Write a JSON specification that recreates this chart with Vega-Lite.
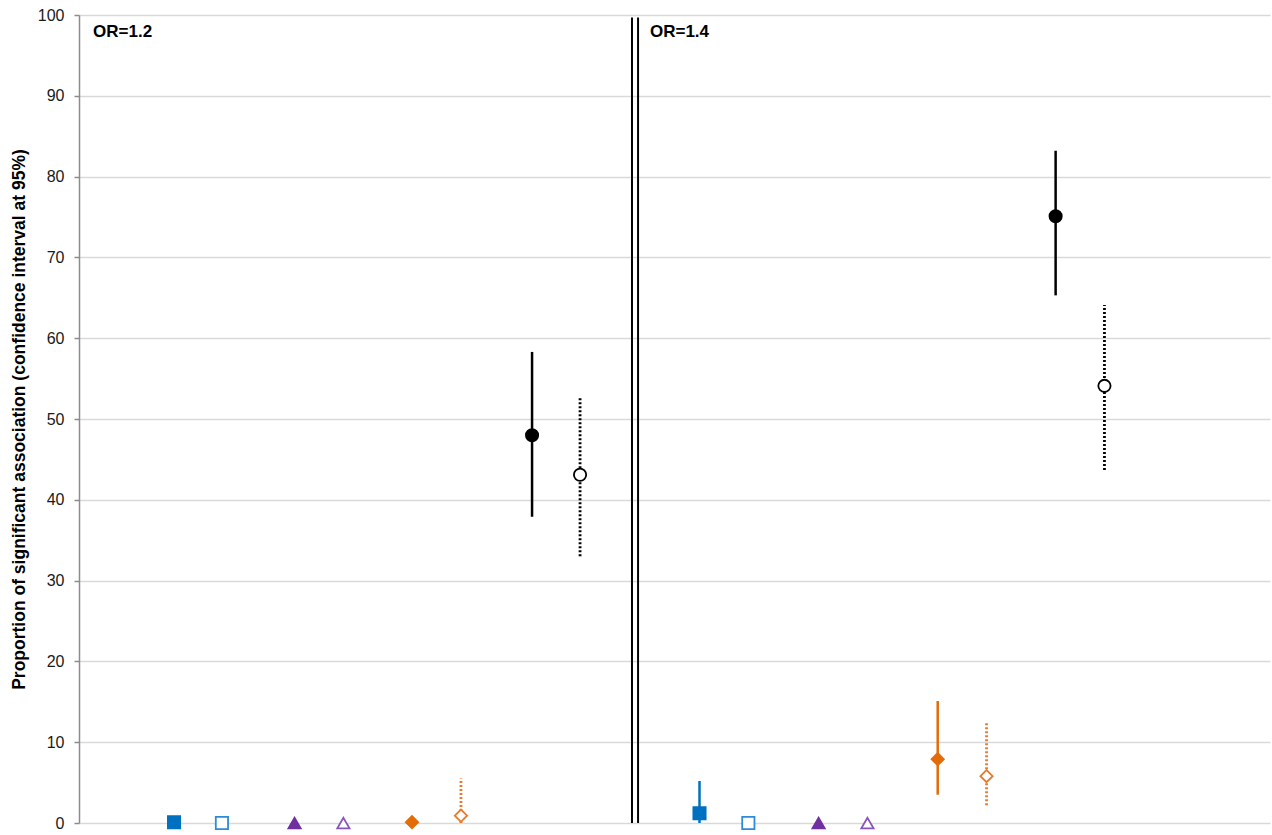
{
  "$schema": "https://vega.github.io/schema/vega-lite/v6.json",
  "autosize": "none",
  "width": 1191,
  "height": 808,
  "padding": {"left": 79, "top": 15, "right": 2, "bottom": 12},
  "background": "white",
  "config": {"view": {"stroke": null}, "font": "Liberation Sans"},
  "datasets": {
    "pts": [
      {"x": 7.98, "v": 0.1, "lo": null, "hi": null, "s": "sq", "open": false},
      {"x": 12.0, "v": 0, "lo": null, "hi": null, "s": "sqo", "open": true},
      {"x": 18.1, "v": 0, "lo": null, "hi": null, "s": "tri", "open": false},
      {"x": 22.2, "v": 0, "lo": null, "hi": null, "s": "trio", "open": true},
      {"x": 27.96, "v": 0.1, "lo": null, "hi": null, "s": "dia", "open": false},
      {"x": 32.07, "v": 0.9, "lo": 0, "hi": 5.5, "s": "diao", "open": true},
      {"x": 38.04, "v": 48.0, "lo": 37.9, "hi": 58.3, "s": "cir", "open": false},
      {"x": 42.07, "v": 43.1, "lo": 33.0, "hi": 52.8, "s": "ciro", "open": true},
      {"x": 52.1, "v": 1.2, "lo": 0, "hi": 5.2, "s": "sq", "open": false},
      {"x": 56.2, "v": 0, "lo": null, "hi": null, "s": "sqo", "open": true},
      {"x": 62.1, "v": 0, "lo": null, "hi": null, "s": "tri", "open": false},
      {"x": 66.2, "v": 0, "lo": null, "hi": null, "s": "trio", "open": true},
      {"x": 72.1, "v": 7.9, "lo": 3.5, "hi": 15.1, "s": "dia", "open": false},
      {"x": 76.2, "v": 5.8, "lo": 2.2, "hi": 12.5, "s": "diao", "open": true},
      {"x": 82.0, "v": 75.1, "lo": 65.3, "hi": 83.2, "s": "cir", "open": false},
      {"x": 86.1, "v": 54.1, "lo": 43.7, "hi": 64.1, "s": "ciro", "open": true}
    ],
    "div": [
      {"x": 46.43, "lo": 0, "hi": 99.7},
      {"x": 46.94, "lo": 0, "hi": 99.7}
    ],
    "labels": [
      {"x": 1.18, "v": 97.3, "t": "OR=1.2"},
      {"x": 47.94, "v": 97.3, "t": "OR=1.4"}
    ]
  },
  "encoding": {
    "x": {"field": "x", "type": "quantitative", "scale": {"domain": [0, 100], "nice": false, "zero": false}, "axis": null}
  },
  "layer": [
    {
      "data": {"values": [{"a": 0}]},
      "mark": {"type": "rule", "opacity": 0},
      "encoding": {
        "x": {"datum": 0, "type": "quantitative"},
        "y": {"datum": 0, "type": "quantitative", "scale": {"domain": [0, 100], "nice": false},
          "axis": {
            "values": [0, 10, 20, 30, 40, 50, 60, 70, 80, 90, 100],
            "grid": true, "gridColor": "#d9d9d9", "gridWidth": 1.5,
            "domainColor": "#8c8c8c", "domainWidth": 1.5,
            "tickColor": "#8c8c8c", "tickSize": 5, "tickWidth": 1.5,
            "labelPadding": 10, "labelFontSize": 16, "labelColor": "#1a1a1a", "labelFont": "Liberation Sans",
            "title": "Proportion of significant association  (confidence interval at 95%)",
            "titleFont": "Liberation Sans", "titleFontSize": 17.5, "titleFontWeight": "bold", "titleColor": "#000",
            "titlePadding": 9
          }
        }
      }
    },
    {
      "data": {"name": "div"},
      "mark": {"type": "rule", "color": "#000", "strokeWidth": 2},
      "encoding": {
        "y": {"field": "lo", "type": "quantitative"},
        "y2": {"field": "hi"}
      }
    },
    {
      "data": {"name": "labels"},
      "mark": {"type": "text", "align": "left", "baseline": "alphabetic", "fontSize": 17, "fontWeight": "bold", "color": "#000", "font": "Liberation Sans"},
      "encoding": {
        "y": {"field": "v", "type": "quantitative"},
        "text": {"field": "t"}
      }
    },
    {
      "data": {"name": "pts"},
      "transform": [{"filter": "datum.hi != null && !datum.open"}],
      "mark": {"type": "rule", "strokeWidth": 2.5},
      "encoding": {
        "y": {"field": "lo", "type": "quantitative"},
        "y2": {"field": "hi"},
        "stroke": {"field": "s", "type": "nominal", "legend": null,
          "scale": {"domain": ["sq", "sqo", "tri", "trio", "dia", "diao", "cir", "ciro"],
            "range": ["#0070C0", "#2E8BD8", "#7030A0", "#8855BB", "#E36C09", "#E87A2A", "#000000", "#000000"]}}
      }
    },
    {
      "data": {"name": "pts"},
      "transform": [{"filter": "datum.hi != null && datum.open"}],
      "mark": {"type": "rule", "strokeWidth": 2.8, "strokeDash": [2, 2]},
      "encoding": {
        "y": {"field": "lo", "type": "quantitative"},
        "y2": {"field": "hi"},
        "stroke": {"field": "s", "type": "nominal", "legend": null}
      }
    },
    {
      "data": {"name": "pts"},
      "mark": {"type": "point", "filled": false, "strokeWidth": 1.8, "opacity": 1},
      "encoding": {
        "y": {"field": "v", "type": "quantitative"},
        "shape": {"field": "s", "type": "nominal", "legend": null,
          "scale": {"domain": ["sq", "sqo", "tri", "trio", "dia", "diao", "cir", "ciro"],
            "range": ["square", "square", "triangle-up", "triangle-up", "diamond", "diamond", "circle", "circle"]}},
        "fill": {"field": "s", "type": "nominal", "legend": null,
          "scale": {"domain": ["sq", "sqo", "tri", "trio", "dia", "diao", "cir", "ciro"],
            "range": ["#0070C0", "#ffffff", "#7030A0", "#ffffff", "#E36C09", "#ffffff", "#000000", "#ffffff"]}},
        "stroke": {"field": "s", "type": "nominal", "legend": null},
        "size": {"field": "s", "type": "nominal", "legend": null,
          "scale": {"domain": ["sq", "sqo", "tri", "trio", "dia", "diao", "cir", "ciro"],
            "range": [150, 150, 230, 230, 135, 180, 145, 145]}}
      }
    }
  ]
}
